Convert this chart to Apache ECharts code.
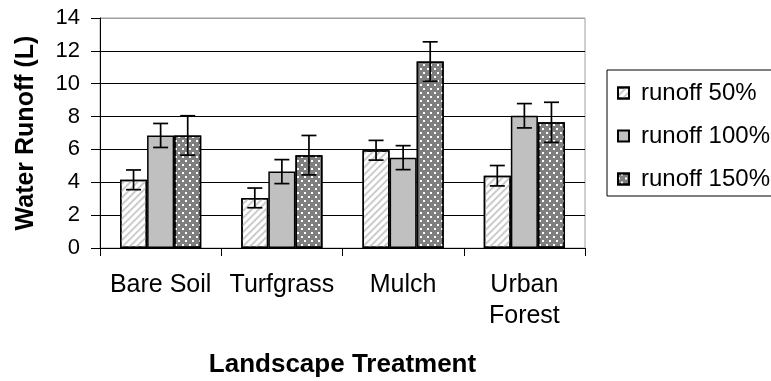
<!DOCTYPE html>
<html>
<head>
<meta charset="utf-8">
<script src="https://cdn.jsdelivr.net/npm/echarts@6/dist/echarts.min.js"></script>
<style>html,body{margin:0;padding:0;background:#fff;}#c{width:771px;height:381px;}</style>
</head>
<body>
<div id="c"></div>
<script>
const categories = ['Bare Soil', 'Turfgrass', 'Mulch', 'Urban\nForest'];
const seriesNames = ['runoff 50%', 'runoff 100%', 'runoff 150%'];
const runoff50 = [4.15, 3.05, 5.95, 4.4];
const runoff100 = [6.85, 4.65, 5.5, 8.05];
const runoff150 = [6.85, 5.65, 11.35, 7.65];
const err50 = [0.6, 0.6, 0.6, 0.62];
const err100 = [0.73, 0.73, 0.73, 0.74];
const err150 = [1.2, 1.2, 1.2, 1.22];
const yTicks = [0, 2, 4, 6, 8, 10, 12, 14];

const values = [runoff50, runoff100, runoff150];
const errs = [err50, err100, err150];
const CAT_GAP = 0.33;
const FONT = 'Liberation Sans, Arial, sans-serif';

const decals = [
  { symbol: 'rect', dashArrayX: [1, 0], dashArrayY: [1.2, 2.6], rotation: -Math.PI / 4, color: '#cccccc' },
  null,
  { symbol: 'rect', symbolSize: 1, dashArrayX: [[1.2, 4.8], [0, 3.0, 1.2, 1.8]], dashArrayY: [1.2, 2.0], rotation: 0, color: '#ffffff' }
];
const fills = ['#ffffff', '#c0c0c0', '#7f7f7f'];

const series = [];
seriesNames.forEach((name, i) => {
  const itemStyle = { color: fills[i], borderColor: '#000', borderWidth: 1.5 };
  if (decals[i]) itemStyle.decal = decals[i];
  series.push({
    name: name, type: 'bar', barGap: '0%', barCategoryGap: (CAT_GAP * 100) + '%',
    itemStyle: itemStyle, data: values[i], z: 2
  });
});
seriesNames.forEach((name, i) => {
  series.push({
    name: 'err ' + name, type: 'custom', z: 5,
    data: values[i].map((v, k) => [k, v, errs[i][k]]),
    renderItem: function (params, api) {
      const x = api.value(0), y = api.value(1), e = api.value(2);
      const catW = api.size([1, 0])[0];
      const bw = catW * (1 - CAT_GAP) / 3;
      const off = (i - 1) * bw;
      const hi = api.coord([x, y + e]);
      const lo = api.coord([x, y - e]);
      const cx = hi[0] + off;
      const hw = 7.5;
      const st = { stroke: '#000', lineWidth: 1.7 };
      return {
        type: 'group', children: [
          { type: 'line', shape: { x1: cx, y1: hi[1], x2: cx, y2: lo[1] }, style: st },
          { type: 'line', shape: { x1: cx - hw, y1: hi[1], x2: cx + hw, y2: hi[1] }, style: st },
          { type: 'line', shape: { x1: cx - hw, y1: lo[1], x2: cx + hw, y2: lo[1] }, style: st }
        ]
      };
    }
  });
});

const chart = echarts.init(document.getElementById('c'), null, { renderer: 'canvas' });
chart.setOption({
  animation: false,
  backgroundColor: '#fff',
  textStyle: { fontFamily: FONT },
  grid: { left: 100, right: 186, top: 18, bottom: 133, outerBoundsMode: 'none', containLabel: false, show: true, borderColor: '#a0a0a0', borderWidth: 1, backgroundColor: 'transparent' },
  legend: {
    data: seriesNames, orient: 'vertical', left: 607, top: 70,
    padding: [11, 30, 5, 10], itemGap: 19, itemWidth: 11, itemHeight: 11,
    borderColor: '#000', borderWidth: 1, icon: 'rect',
    textStyle: { fontFamily: FONT, fontSize: 24, color: '#000', lineHeight: 22, padding: [0, 0, 0, 7] }
  },
  xAxis: {
    type: 'category', data: categories,
    name: 'Landscape Treatment', nameLocation: 'middle', nameGap: 104,
    nameTextStyle: { fontFamily: FONT, fontSize: 26, fontWeight: 'bold', color: '#000' },
    axisLine: { lineStyle: { color: '#000', width: 1 } },
    axisTick: { show: true, length: 8, lineStyle: { color: '#000' } },
    axisLabel: { fontFamily: FONT, fontSize: 25, color: '#000', lineHeight: 31, margin: 22, interval: 0 }
  },
  yAxis: {
    type: 'value', min: yTicks[0], max: yTicks[yTicks.length - 1], interval: 2,
    name: 'Water Runoff (L)', nameLocation: 'middle', nameGap: 61, nameRotate: 90,
    nameTextStyle: { fontFamily: FONT, fontSize: 25, fontWeight: 'bold', color: '#000' },
    axisLine: { show: true, lineStyle: { color: '#000', width: 1 } },
    axisTick: { show: true, length: 9, lineStyle: { color: '#000' } },
    axisLabel: { fontFamily: FONT, fontSize: 22, color: '#000', margin: 20 },
    splitLine: { show: true, lineStyle: { color: yTicks.map((t, k) => k === yTicks.length - 1 ? '#a0a0a0' : '#000'), width: 1 } }
  },
  series: series
});
</script>
</body>
</html>
